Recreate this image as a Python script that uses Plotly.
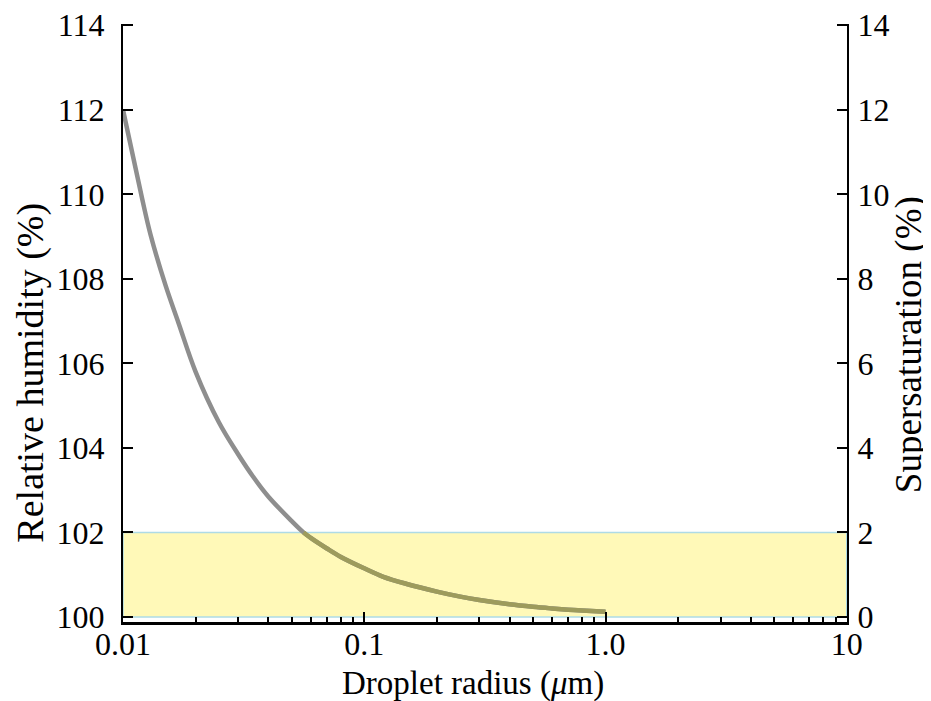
import plotly.graph_objects as go

# ---- data ----
radius_um = [0.01, 0.011, 0.012, 0.013, 0.015, 0.017, 0.02, 0.025, 0.03, 0.035,
             0.04, 0.05, 0.056, 0.06, 0.07, 0.08, 0.1, 0.12, 0.15, 0.2, 0.25,
             0.3, 0.4, 0.5, 0.6, 0.7, 0.8, 1.0]
rel_humidity = [112.0, 110.9, 109.9, 109.05, 107.85, 106.95, 105.8, 104.6, 103.85, 103.28,
                102.85, 102.27, 102.0, 101.87, 101.62, 101.42, 101.15, 100.95, 100.78, 100.6, 100.48,
                100.4, 100.3, 100.24, 100.2, 100.17, 100.15, 100.12]
band_low = 100
band_high = 102
x_tickvals = [0.01, 0.1, 1, 10]
x_ticktext = ["0.01", "0.1", "1.0", "10"]
x_minor_vals = [m * d for d in (0.01, 0.1, 1) for m in range(2, 10)]
y_tickvals = [100, 102, 104, 106, 108, 110, 112, 114]
y2_tickvals = [0, 2, 4, 6, 8, 10, 12, 14]

supersat = [v - 100 for v in rel_humidity]

FONT = "Liberation Serif"

fig = go.Figure()

below_x = [r for r, v in zip(radius_um, rel_humidity) if v <= band_high]
below_y = [v for v in rel_humidity if v <= band_high]

# full curve (gray)
fig.add_trace(go.Scatter(x=radius_um, y=rel_humidity, mode="lines",
                         line=dict(color="#8e8e8e", width=4.5, shape="spline", smoothing=1),
                         showlegend=False, hoverinfo="skip"))
# part of the curve inside the yellow band (tinted)
fig.add_trace(go.Scatter(x=below_x, y=below_y, mode="lines",
                         line=dict(color="#9d9b5c", width=4.5, shape="spline", smoothing=1),
                         showlegend=False, hoverinfo="skip"))
# invisible trace on the right axis (supersaturation)
fig.add_trace(go.Scatter(x=radius_um, y=supersat, mode="lines", yaxis="y2",
                         line=dict(color="rgba(0,0,0,0)", width=0),
                         showlegend=False, hoverinfo="skip"))

# yellow band
fig.add_shape(type="rect", xref="x", yref="y",
              x0=x_tickvals[0], x1=x_tickvals[-1], y0=band_low, y1=band_high,
              fillcolor="#fff9b8", line=dict(color="#aedbe6", width=1.5),
              layer="below")

fig.update_layout(
    width=923, height=693,
    margin=dict(l=115, r=84, t=16, b=79, autoexpand=False),
    paper_bgcolor="white", plot_bgcolor="rgba(0,0,0,0)",
    font=dict(family=FONT, color="black", size=32),
    showlegend=False,
    xaxis=dict(type="log", range=[-2, 1.001],
               tickvals=x_tickvals, ticktext=x_ticktext,
               ticks="inside", ticklen=10, tickwidth=2, tickcolor="black",
               minor=dict(tickvals=x_minor_vals, ticks="inside", ticklen=5, tickwidth=1.5,
                          tickcolor="black", showgrid=False),
               showline=True, linecolor="black", linewidth=3,
               showgrid=False, zeroline=False, automargin=False,
               ticklabeloverflow="allow",
               tickfont=dict(family=FONT, size=32)),
    yaxis=dict(range=[99.88, 114.03], tickvals=y_tickvals,
               ticks="inside", ticklen=10, tickwidth=2, tickcolor="black",
               showline=True, linecolor="black", linewidth=2,
               showgrid=False, zeroline=False, automargin=False,
               ticklabeloverflow="allow",
               tickfont=dict(family=FONT, size=32),
               ticklabelstandoff=10),
    yaxis2=dict(range=[-0.12, 14.03], tickvals=y2_tickvals, overlaying="y", side="right",
                ticks="inside", ticklen=10, tickwidth=2, tickcolor="black",
                showline=True, linecolor="black", linewidth=2,
                showgrid=False, zeroline=False, automargin=False,
                ticklabeloverflow="allow",
                tickfont=dict(family=FONT, size=32),
                ticklabelstandoff=2),
)

try:
    fig.update_xaxes(ticklabelstandoff=-8)
except ValueError:
    fig.update_xaxes(ticklabelstandoff=0)

fig.add_annotation(text="Droplet radius (<i>μ</i>m)", xref="paper", yref="paper",
                   x=0.483, y=0, xanchor="center", yanchor="middle", yshift=-61,
                   showarrow=False, font=dict(family=FONT, size=33, color="black"))
fig.add_annotation(text="Relative humidity (%)", xref="paper", yref="paper",
                   x=0, y=0.417, xanchor="center", yanchor="middle", xshift=-92,
                   textangle=-90, showarrow=False,
                   font=dict(family=FONT, size=38, color="black"))
fig.add_annotation(text="Supersaturation (%)", xref="paper", yref="paper",
                   x=1, y=0.463, xanchor="center", yanchor="middle", xshift=62,
                   textangle=-90, showarrow=False,
                   font=dict(family=FONT, size=37, color="black"))

fig.write_html("out.html")
